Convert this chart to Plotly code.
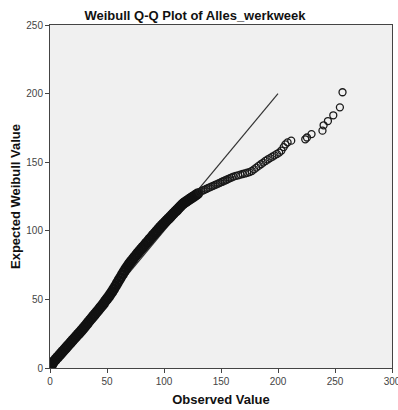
import plotly.graph_objects as go

# Observed values (x) and expected Weibull quantiles (y), read off the picture
# dense part of the band
observed_dense = [
    0.5, 1.5, 2.5, 3.5, 5, 6.5, 8, 9.5, 11, 12.5, 14, 15.5, 17, 18.5, 20, 21.5, 23, 24.5,
    26, 27.5, 29, 30.5, 32, 33.5, 35, 36.5, 38, 39.5, 41, 42.5, 44, 45.5, 47, 48.5, 50, 51.5,
    53, 54.5, 56, 57.5, 59, 60.5, 62, 63.5, 65, 66.5, 68,
    69.5, 71, 72.5, 74, 75.5, 77, 78.5, 80, 81.5, 83, 84.5, 86, 87.5, 89, 90.5, 92, 93.5, 95, 96.5,
    98, 99.5, 101, 102.5, 104, 105.5, 107, 108.5, 110, 111.5, 113, 114.5, 116,
    117.5, 119, 120.5, 122, 123.5, 125, 126.5, 128, 129.5,
]
expected_dense = [
    0.8, 2.2, 3.8, 4.9, 6.3, 7.7, 9.1, 10.5, 11.9, 13.3, 14.7, 16.1, 17.5, 18.9, 20.3, 21.7, 23.1, 24.5,
    25.8, 27.2, 28.7, 30.2, 31.7, 33.3, 34.8, 36.3, 37.8, 39.3, 40.8, 42.3, 43.9, 45.4, 46.9, 48.8, 50.4, 52.0,
    53.8, 55.7, 57.7, 59.8, 61.9, 64.0, 66.1, 68.2, 70.3, 72.3, 74.2,
    75.9, 77.5, 79.1, 80.7, 82.2, 83.7, 85.2, 86.6, 88.1, 89.5, 91.0, 92.4, 93.9, 95.3, 96.8, 98.2, 99.6, 101.1, 102.5,
    103.9, 105.1, 106.4, 107.7, 108.9, 110.2, 111.5, 112.8, 114.1, 115.3, 116.6, 117.9, 119.2,
    120.3, 121.1, 122.0, 122.8, 123.6, 124.5, 125.3, 126.2, 127.0,
]
# upper part where single circles become visible
observed_sparse = [
    131, 132.5, 134, 135.5, 137, 138.5, 140, 141.5, 143, 144.5, 146, 147.5, 149, 150.5, 152, 153.5, 155, 156.5, 158, 159.5,
    161, 163, 165, 167, 169, 171, 173, 175,
    177, 179, 181, 183, 185, 187, 189,
    191, 193, 195, 197, 199, 201,
    203, 205, 206.5, 208.4, 211.6,
    223.9, 225.4, 229.4, 239, 240, 243.8, 248.5, 254.3, 256.6,
]
expected_sparse = [
    127.9, 128.7, 129.4, 129.9, 130.5, 131.1, 131.6, 132.2, 132.7, 133.3, 133.9, 134.4, 135.0, 135.6, 136.1, 136.7, 137.2, 137.8, 138.4, 138.9,
    139.5, 140.0, 140.4, 140.9, 141.4, 141.8, 142.3, 142.8,
    143.6, 144.8, 146.0, 147.3, 148.5, 149.7, 150.9,
    152.0, 153.0, 154.0, 155.0, 156.0, 157.0,
    158.5, 161.0, 163.0, 164.5, 165.7,
    166.7, 168.0, 170.5, 173.0, 176.9, 180.0, 184.2, 190.0, 201.0,
]
ref_line_x = [0, 200]
ref_line_y = [0, 200]

x_ticks = [0, 50, 100, 150, 200, 250, 300]
y_ticks = [0, 50, 100, 150, 200, 250]

fig = go.Figure()
fig.add_trace(go.Scatter(
    x=ref_line_x, y=ref_line_y, mode="lines",
    line=dict(color="#333333", width=1.2), showlegend=False, hoverinfo="skip",
))
fig.add_trace(go.Scatter(
    x=observed_dense, y=expected_dense, mode="markers",
    marker=dict(symbol="circle-open", size=8, color="#111111", line=dict(width=2.8)),
    showlegend=False,
))
fig.add_trace(go.Scatter(
    x=observed_sparse, y=expected_sparse, mode="markers",
    marker=dict(symbol="circle-open", size=7, color="#1a1a1a", line=dict(width=1.3)),
    showlegend=False,
))

axis_common = dict(
    showgrid=False, zeroline=False, showline=True, mirror=True,
    linecolor="#444444", linewidth=1, ticks="outside", ticklen=4,
    tickcolor="#444444", ticklabeloverflow="allow", automargin=False,
    tickfont=dict(family="Arial", size=10, color="#444444"),
)
fig.update_layout(
    width=398, height=410,
    margin=dict(l=50, r=6, t=25, b=42),
    paper_bgcolor="white", plot_bgcolor="#F0F0F0",
    title=dict(text="<b>Weibull Q-Q Plot of Alles_werkweek</b>", x=0.49, xanchor="center",
               y=1 - 15 / 410, yanchor="middle",
               font=dict(family="Arial", size=13, color="#111111")),
    xaxis=dict(range=[0, 300], tickvals=x_ticks,
               title=dict(text="<b>Observed Value</b>", standoff=8,
                          font=dict(family="Arial", size=13, color="#111111")),
               **axis_common),
    yaxis=dict(range=[0, 250], tickvals=y_ticks,
               title=dict(text="<b>Expected Weibull Value</b>", standoff=2,
                          font=dict(family="Arial", size=13, color="#111111")),
               **axis_common),
)
fig.write_html("out.html")
